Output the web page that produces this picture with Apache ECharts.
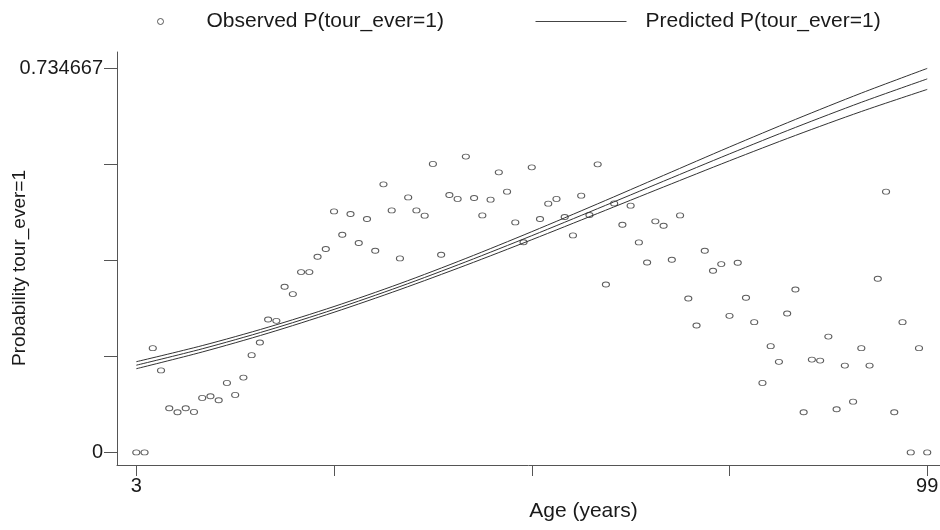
<!DOCTYPE html>
<html><head><meta charset="utf-8">
<script src="https://cdn.jsdelivr.net/npm/echarts@6/dist/echarts.min.js"></script>
<style>html,body{margin:0;padding:0;background:#fff}#c{width:940px;height:530px}</style>
</head><body><div id="c"></div>
<script>
const ages = [3,4,5,6,7,8,9,10,11,12,13,14,15,16,17,18,19,20,21,22,23,24,25,26,27,28,29,30,31,32,33,34,35,36,37,38,39,40,41,42,43,44,45,46,47,48,49,50,51,52,53,54,55,56,57,58,59,60,61,62,63,64,65,66,67,68,69,70,71,72,73,74,75,76,77,78,79,80,81,82,83,84,85,86,87,88,89,90,91,92,93,94,95,96,97,98,99];
const observed = [0,0,0.1994,0.1569,0.0845,0.0768,0.0845,0.0774,0.1042,0.1075,0.0998,0.1330,0.1100,0.1431,0.1860,0.2102,0.2542,0.2517,0.3169,0.3029,0.3450,0.3450,0.3743,0.3891,0.4611,0.4165,0.4561,0.4006,0.4466,0.3858,0.5128,0.4630,0.3711,0.4879,0.4630,0.4529,0.5519,0.3782,0.4925,0.4849,0.5659,0.4868,0.4534,0.4835,0.5358,0.4989,0.4400,0.4021,0.5454,0.4466,0.4759,0.4849,0.4504,0.4151,0.4912,0.4542,0.5511,0.3213,0.4764,0.4356,0.4720,0.4017,0.3634,0.4420,0.4337,0.3686,0.4534,0.2944,0.2427,0.3858,0.3475,0.3603,0.2613,0.3628,0.2958,0.2492,0.1330,0.2033,0.1732,0.2657,0.3117,0.0768,0.1776,0.1757,0.2216,0.0826,0.1661,0.0971,0.1994,0.1661,0.3322,0.4989,0.0768,0.2492,0,0.1994,0];
const curveAges = [3,11,19,27,35,43,51,59,67,75,83,91,99];
const predicted = [0.1668,0.1982,0.2338,0.2736,0.3173,0.3646,0.4146,0.4664,0.5189,0.5711,0.6217,0.6698,0.7146];
const upperCI = [0.1735,0.2043,0.2395,0.2791,0.3230,0.3711,0.4223,0.4756,0.5300,0.5843,0.6370,0.6874,0.734667];
const lowerCI = [0.1601,0.1921,0.2281,0.2681,0.3116,0.3581,0.4069,0.4572,0.5078,0.5579,0.6064,0.6522,0.6945];
const xTicks = [3,27,51,75,99];
const xTickLabels = [3,99];
const yTicks = [0,0.183667,0.367333,0.551,0.734667];
const yTickLabels = [0,0.734667];

const FONT = 'Liberation Sans, Arial, sans-serif';
const TXT = '#1a1a1a';
const AX = '#555';
const pair = (xs, ys) => xs.map((x, i) => [x, ys[i]]);
const ellipse = 'path://M0,5a5,5 0 1,0 10,0a5,5 0 1,0 -10,0';

const chart = echarts.init(document.getElementById('c'), null, {renderer: 'canvas'});
chart.setOption({
  animation: false,
  backgroundColor: '#fff',
  textStyle: {fontFamily: FONT},
  legend: [
    {data: ['Observed P(tour_ever=1)'], left: 157, top: 11, padding: 0, icon: 'circle', itemWidth: 6, itemHeight: 6,
     textStyle: {fontSize: 21, color: TXT, fontFamily: FONT, padding: [0, 0, 0, 38]},
     itemStyle: {color: '#fff', borderColor: '#333', borderWidth: 1}},
    {data: ['Predicted P(tour_ever=1)'], left: 535, top: 11, padding: 0, itemWidth: 91, itemHeight: 1,
     itemStyle: {opacity: 0}, lineStyle: {width: 1, color: '#444'},
     textStyle: {fontSize: 21, color: TXT, fontFamily: FONT, padding: [0, 0, 0, 14]}}
  ],
  graphic: [
    {type: 'text', x: 20, y: 268, rotation: Math.PI / 2,
     style: {text: 'Probability tour_ever=1', fill: TXT, font: '19px ' + FONT, align: 'center', verticalAlign: 'middle'}}
  ],
  grid: {left: 117, right: 0, top: 52, bottom: 65, containLabel: false, outerBoundsMode: 'none'},
  xAxis: {
    type: 'value', min: 0.657, max: 100.55,
    name: 'Age (years)', nameLocation: 'middle', nameGap: 32,
    nameTextStyle: {fontSize: 21, color: TXT, fontFamily: FONT, padding: [0, 0, 0, 110]},
    axisLine: {show: true, onZero: false, lineStyle: {color: AX, width: 1}},
    axisTick: {show: true, length: 11, customValues: xTicks, lineStyle: {color: AX}},
    axisLabel: {show: true, customValues: xTickLabels, margin: 11, fontSize: 20, color: TXT, fontFamily: FONT, formatter: v => String(v)},
    splitLine: {show: false}
  },
  yAxis: {
    type: 'value', min: -0.02411, max: 0.76605,
    axisLine: {show: true, onZero: false, lineStyle: {color: AX, width: 1}},
    axisTick: {show: true, length: 13, customValues: yTicks, lineStyle: {color: AX}},
    axisLabel: {show: true, customValues: yTickLabels, margin: 14, fontSize: 20, color: TXT, fontFamily: FONT, formatter: v => String(v)},
    splitLine: {show: false}
  },
  series: [
    {name: 'Observed P(tour_ever=1)', type: 'scatter', data: pair(ages, observed),
     symbol: ellipse, symbolSize: [7, 5],
     itemStyle: {color: '#fff', borderColor: '#333', borderWidth: 1}},
    {name: 'Predicted P(tour_ever=1)', type: 'line', data: pair(curveAges, predicted),
     smooth: 0.3, symbol: 'none', lineStyle: {color: '#333', width: 1}, itemStyle: {color: '#333'}},
    {name: 'upper', type: 'line', data: pair(curveAges, upperCI),
     smooth: 0.3, symbol: 'none', lineStyle: {color: '#333', width: 1}},
    {name: 'lower', type: 'line', data: pair(curveAges, lowerCI),
     smooth: 0.3, symbol: 'none', lineStyle: {color: '#333', width: 1}}
  ]
});
</script>
</body></html>
